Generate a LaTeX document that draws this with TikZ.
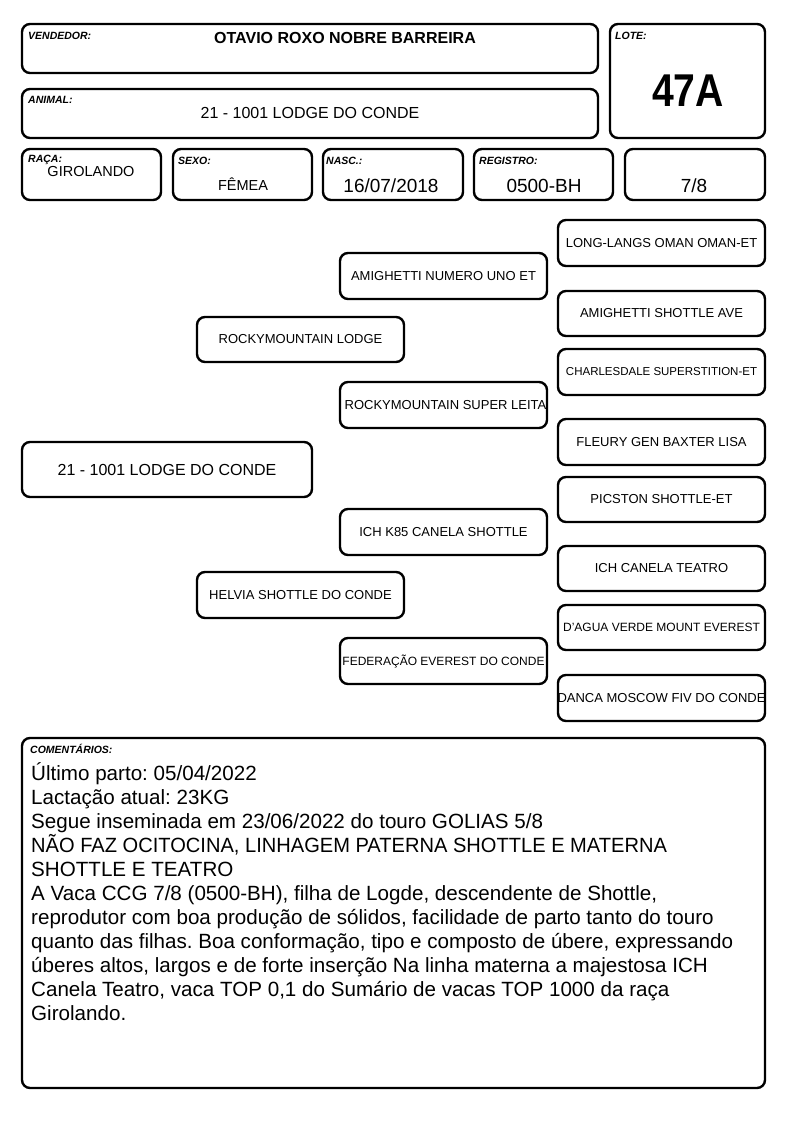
\documentclass[tikz,border=0pt]{standalone}
\usepackage{fontspec}
\setmainfont{Liberation Sans}
\usetikzlibrary{fit}
\frenchspacing
\tikzset{
  box/.style={draw, line width=2.4pt, rounded corners=8pt, inner sep=0pt},
  lbl/.style={font=\fontsize{10.5}{12}\selectfont\bfseries\itshape, anchor=west, inner sep=0pt},
  ped/.style={font=\fontsize{13}{15}\selectfont, inner sep=0pt},
  val/.style={font=\fontsize{14.5}{17}\selectfont, inner sep=0pt},
  bigval/.style={font=\fontsize{19}{22}\selectfont, inner sep=0pt},
  cline/.style={font=\fontsize{20.6}{24}\selectfont, anchor=base west, inner sep=0pt},
}
\begin{document}
\begin{tikzpicture}[x=1pt,y=-1pt]
\frenchspacing
\useasboundingbox (0,0) rectangle (794,1123);
% header boxes
\node[box, fit={(22,24) (598,73)}] (vend) {};
\node[box, fit={(610,24) (765,138)}] (lote) {};
\node[box, fit={(22,89) (598,138)}] (anim) {};
\node[box, fit={(22,149) (161,200)}] (raca) {};
\node[box, fit={(173,149) (312,200)}] (sexo) {};
\node[box, fit={(323,149) (463,200)}] (nasc) {};
\node[box, fit={(474,149) (613,200)}] (reg) {};
\node[box, fit={(625,149) (765,200)}] (grau) {};
% labels
\node[lbl] (lvend) at (28,36) {VENDEDOR:};
\node[lbl] (llote) at (615,36) {LOTE:};
\node[lbl] (lanim) at (28,100) {ANIMAL:};
\node[lbl] (lraca) at (28,160) {RAÇA:};
\node[lbl] (lsexo) at (178,161) {SEXO:};
\node[lbl] (lnasc) at (326,161) {NASC.:};
\node[lbl] (lreg) at (479,161) {REGISTRO:};
% values
\node[font=\fontsize{16}{18}\selectfont\bfseries, inner sep=0pt] (tvend) at (345,38) {OTAVIO ROXO NOBRE BARREIRA};
\node[font=\fontsize{46}{50}\selectfont\bfseries, inner sep=0pt, xscale=0.85] (tlote) at (688,91) {47A};
\node[font=\fontsize{16}{18}\selectfont, inner sep=0pt] (tanim) at (310,113) {21 - 1001 LODGE DO CONDE};
\node[val] (traca) at (91,172) {GIROLANDO};
\node[val] (tsexo) at (243,184) {FÊMEA};
\node[bigval] (tnasc) at (391,186) {16/07/2018};
\node[bigval] (treg) at (544,186) {0500-BH};
\node[bigval] (tgrau) at (694,186) {7/8};
% pedigree
\node[box, fit={(22,442) (312,497)}] (p0) {};
\node[font=\fontsize{16}{18}\selectfont, inner sep=0pt] (t0) at (p0.center) {21 - 1001 LODGE DO CONDE};
\node[box, fit={(197,317) (404,362)}] (p1) {};
\node[ped] (t1) at (p1.center) {ROCKYMOUNTAIN LODGE};
\node[box, fit={(197,572) (404,618)}] (p2) {};
\node[ped] (t2) at (p2.center) {HELVIA SHOTTLE DO CONDE};
\node[box, fit={(340,253) (547,299)}] (p3) {};
\node[ped] (t3) at (p3.center) {AMIGHETTI NUMERO UNO ET};
\node[box, fit={(340,382) (547,428)}] (p4) {};
\node[ped] (t4) at ([xshift=2pt]p4.center) {ROCKYMOUNTAIN SUPER LEITA};
\node[box, fit={(340,509) (547,555)}] (p5) {};
\node[ped] (t5) at (p5.center) {ICH K85 CANELA SHOTTLE};
\node[box, fit={(340,638) (547,684)}] (p6) {};
\node[ped, font=\fontsize{12}{14}\selectfont] (t6) at (p6.center) {FEDERAÇÃO EVEREST DO CONDE};
\node[box, fit={(558,220) (765,266)}] (p7) {};
\node[ped] (t7) at (p7.center) {LONG-LANGS OMAN OMAN-ET};
\node[box, fit={(558,291) (765,336)}] (p8) {};
\node[ped] (t8) at (p8.center) {AMIGHETTI SHOTTLE AVE};
\node[box, fit={(558,349) (765,395)}] (p9) {};
\node[ped, font=\fontsize{11.5}{14}\selectfont] (t9) at (p9.center) {CHARLESDALE SUPERSTITION-ET};
\node[box, fit={(558,419) (765,465)}] (p10) {};
\node[ped] (t10) at (p10.center) {FLEURY GEN BAXTER LISA};
\node[box, fit={(558,477) (765,522)}] (p11) {};
\node[ped] (t11) at (p11.center) {PICSTON SHOTTLE-ET};
\node[box, fit={(558,546) (765,591)}] (p12) {};
\node[ped] (t12) at (p12.center) {ICH CANELA TEATRO};
\node[box, fit={(558,605) (765,650)}] (p13) {};
\node[ped, font=\fontsize{12}{14}\selectfont] (t13) at (p13.center) {D'AGUA VERDE MOUNT EVEREST};
\node[box, fit={(558,675) (765,721)}] (p14) {};
\node[ped] (t14) at (p14.center) {DANCA MOSCOW FIV DO CONDE};
% comments
\node[box, fit={(22,738) (765,1088)}] (com) {};
\node[lbl] (lcom) at (30,749) {COMENTÁRIOS:};
\node[cline] (c1) at (31,780) {Último parto: 05/04/2022};
\node[cline] (c2) at (31,804) {Lactação atual: 23KG};
\node[cline] (c3) at (31,828) {Segue inseminada em 23/06/2022 do touro GOLIAS 5/8};
\node[cline, xscale=0.975] (c4) at (31,852) {NÃO FAZ OCITOCINA, LINHAGEM PATERNA SHOTTLE E MATERNA};
\node[cline] (c5) at (31,876) {SHOTTLE E TEATRO};
\node[cline] (c6) at (31,900) {A Vaca CCG 7/8 (0500-BH), filha de Logde, descendente de Shottle,};
\node[cline] (c7) at (31,924) {reprodutor com boa produção de sólidos, facilidade de parto tanto do touro};
\node[cline] (c8) at (31,948) {quanto das filhas. Boa conformação, tipo e composto de úbere, expressando};
\node[cline] (c9) at (31,972) {úberes altos, largos e de forte inserção Na linha materna a majestosa ICH};
\node[cline] (c10) at (31,996) {Canela Teatro, vaca TOP 0,1 do Sumário de vacas TOP 1000 da raça};
\node[cline] (c11) at (31,1020) {Girolando.};
\end{tikzpicture}
\end{document}
